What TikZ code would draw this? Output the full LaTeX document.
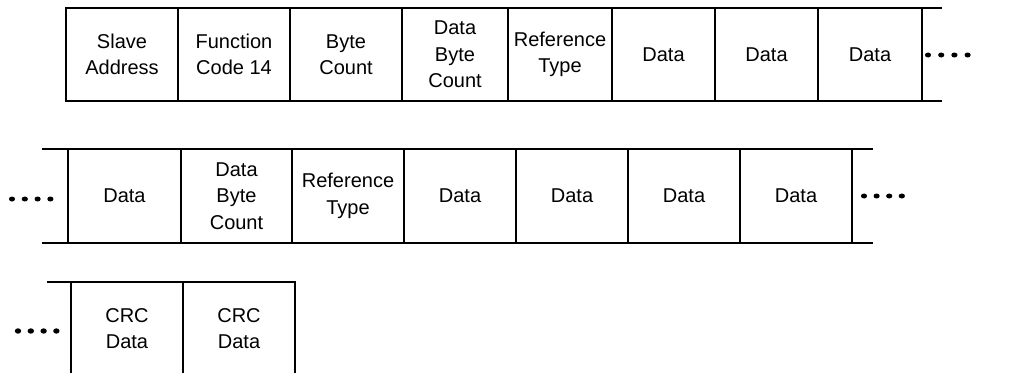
\documentclass[tikz,border=0pt]{standalone}
\usepackage{fontspec}
\setmainfont{Liberation Sans}
\begin{document}
\begin{tikzpicture}[x=1pt, y=-1pt, line width=1.8pt,
	cell/.style={draw, minimum height=93pt, inner sep=0pt, outer sep=0pt,
		align=center, font=\fontsize{20}{26.5}\selectfont}]
	
	% Frame
	\useasboundingbox (0,0) rectangle (1016,372);
	\clip (0,0) rectangle (1016,372);
	
	% Constants
	\def\ya{54.5}
	\def\yb{196}
	\def\yc{328.5}
	
	% === FIRST ROW ===
	\node[cell, minimum width=112pt] (slave) at (122,\ya) {Slave\\Address};
	\node[cell, minimum width=112pt] (func) at (234,\ya) {Function\\Code 14};
	\node[cell, minimum width=112pt] (bytes) at (346,\ya) {Byte\\Count};
	\node[cell, minimum width=106pt] (dbcA) at (455,\ya) {Data\\Byte\\Count};
	\node[cell, minimum width=104pt] (refA) at (560,\ya) {Reference\\Type};
	\node[cell, minimum width=103pt] (dataA1) at (663.5,\ya) {Data};
	\node[cell, minimum width=103pt] (dataA2) at (766.5,\ya) {Data};
	\node[cell, minimum width=104pt] (dataA3) at (870,\ya) {Data};
	\draw (dataA3.north east) -- ++(20,0);
	\draw (dataA3.south east) -- ++(20,0);
	\foreach \k in {0,...,3}
		\fill (928+13.2*\k,55) ellipse (3.1pt and 2.5pt);
	
	% === SECOND ROW ===
	\node[cell, minimum height=94pt, minimum width=113pt] (dataB1) at (124.5,\yb) {Data};
	\node[cell, minimum height=94pt, minimum width=111pt] (dbcB) at (236.5,\yb) {Data\\Byte\\Count};
	\node[cell, minimum height=94pt, minimum width=112pt] (refB) at (348,\yb) {Reference\\Type};
	\foreach \i/\xc in {2/460, 3/572, 4/684, 5/796}
		\node[cell, minimum height=94pt, minimum width=112pt] (dataB\i) at (\xc,\yb) {Data};
	\draw (dataB1.north west) -- ++(-26,0);
	\draw (dataB1.south west) -- ++(-26,0);
	\draw (dataB5.north east) -- ++(21,0);
	\draw (dataB5.south east) -- ++(21,0);
	\foreach \k in {0,...,3} {
		\fill (12+12.8*\k,199) ellipse (3.1pt and 2.5pt);
		\fill (864+12.6*\k,196) ellipse (3.1pt and 2.5pt);
	}
	
	% === THIRD ROW ===
	\node[cell, minimum width=112pt] (crcA) at (127,\yc) {CRC\\Data};
	\node[cell, minimum width=112pt] (crcB) at (239,\yc) {CRC\\Data};
	\draw (crcA.north west) -- ++(-24,0);
	\foreach \k in {0,...,3}
		\fill (18+12.8*\k,331) ellipse (3.2pt and 2.7pt);
	
\end{tikzpicture}
\end{document}
